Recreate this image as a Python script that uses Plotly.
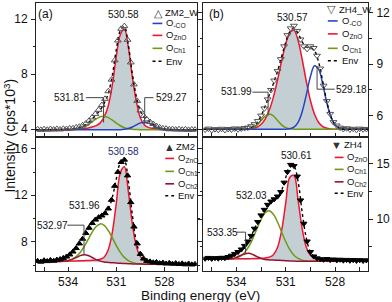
import plotly.graph_objects as go

# ---------------- data ----------------
E_DATA = [535.9, 535.7, 535.5, 535.3, 535.1, 534.9, 534.7, 534.5, 534.3, 534.1,
          533.9, 533.7, 533.5, 533.3, 533.1, 532.9, 532.7, 532.5, 532.3, 532.1,
          531.9, 531.7, 531.5, 531.3, 531.1, 530.9, 530.7, 530.5, 530.3, 530.1,
          529.9, 529.7, 529.5, 529.3, 529.1, 528.9, 528.7, 528.5, 528.3, 528.1,
          527.9, 527.7, 527.5, 527.3, 527.1, 526.9, 526.7, 526.5, 526.3, 526.1]

E_FIT = [536.0, 535.75, 535.5, 535.25, 535.0, 534.75, 534.5, 534.25, 534.0, 533.75,
         533.5, 533.25, 533.0, 532.75, 532.5, 532.25, 532.0, 531.75, 531.5, 531.25,
         531.0, 530.75, 530.5, 530.25, 530.0, 529.75, 529.5, 529.25, 529.0, 528.75,
         528.5, 528.25, 528.0, 527.75, 527.5, 527.25, 527.0, 526.75, 526.5, 526.25, 526.0]

# (a) ZM2_W
DATA_A = [3.98, 3.94, 3.99, 3.95, 4.0, 3.96, 4.01, 3.97, 4.02, 4.0,
          4.05, 4.06, 4.12, 4.17, 4.27, 4.4, 4.6, 4.85, 5.1, 5.4,
          5.75, 6.2, 6.75, 7.6, 9.0, 10.45, 11.3, 11.5, 10.5, 8.85,
          7.25, 6.05, 5.35, 4.95, 4.7, 4.52, 4.37, 4.22, 4.12, 4.05,
          4.03, 3.98, 4.0, 3.96, 3.99, 3.95, 3.98, 3.94, 3.97, 3.95]
BG_A_E = [536.0, 526.0]
BG_A = [3.95, 3.95]
RED_A = [3.95, 3.95, 3.95, 3.96, 3.96, 3.97, 3.97, 3.98, 3.98, 3.99,
         4.0, 4.02, 4.05, 4.08, 4.15, 4.25, 4.45, 4.9, 5.7, 7.2,
         9.3, 10.87, 11.28, 9.95, 7.78, 6.0, 4.8, 4.3, 4.12, 4.05,
         4.02, 4.0, 3.98, 3.97, 3.96, 3.96, 3.95, 3.95, 3.95, 3.95, 3.95]
GREEN_A = [3.95, 3.95, 3.95, 3.95, 3.95, 3.95, 3.95, 3.95, 3.95, 3.95,
           3.99, 4.05, 4.16, 4.33, 4.54, 4.74, 4.89, 4.93, 4.83, 4.65,
           4.43, 4.24, 4.1, 4.02, 3.98, 3.96, 3.95, 3.95, 3.95, 3.95,
           3.95, 3.95, 3.95, 3.95, 3.95, 3.95, 3.95, 3.95, 3.95, 3.95, 3.95]
BLUE_A = [3.95, 3.95, 3.95, 3.95, 3.95, 3.95, 3.95, 3.95, 3.95, 3.95,
          3.95, 3.95, 3.95, 3.95, 3.95, 3.95, 3.95, 3.95, 3.95, 3.95,
          3.95, 3.95, 3.98, 4.04, 4.15, 4.3, 4.45, 4.5, 4.43, 4.28,
          4.13, 4.02, 3.97, 3.95, 3.95, 3.95, 3.95, 3.95, 3.95, 3.95, 3.95]
ENV_A = [3.95, 3.95, 3.95, 3.96, 3.96, 3.97, 3.97, 3.98, 3.98, 3.99,
         4.04, 4.12, 4.26, 4.46, 4.74, 5.04, 5.39, 5.88, 6.58, 7.9,
         9.78, 11.16, 11.46, 10.11, 8.01, 6.36, 5.3, 4.85, 4.6, 4.38,
         4.2, 4.07, 4.0, 3.97, 3.96, 3.96, 3.95, 3.95, 3.95, 3.95, 3.95]

# (b) ZH4_W
DATA_B = [5.18, 5.24, 5.15, 5.21, 5.17, 5.23, 5.16, 5.22, 5.19, 5.25,
          5.2, 5.24, 5.27, 5.3, 5.38, 5.5, 5.68, 6.0, 6.42, 6.95,
          7.5, 8.05, 8.6, 9.3, 10.05, 10.7, 11.1, 11.25, 10.95, 10.45,
          10.05, 9.9, 10.05, 9.95, 9.5, 8.75, 7.75, 6.85, 6.1, 5.62,
          5.42, 5.3, 5.22, 5.26, 5.19, 5.23, 5.17, 5.24, 5.2, 5.22]
BG_B_E = [536.0, 526.0]
BG_B = [5.2, 5.2]
RED_B = [5.2, 5.2, 5.2, 5.2, 5.2, 5.2, 5.2, 5.2, 5.2, 5.2,
         5.2, 5.21, 5.25, 5.32, 5.48, 5.79, 6.31, 7.08, 8.08, 9.18,
         10.19, 10.85, 10.98, 10.39, 9.28, 8.0, 6.88, 6.08, 5.6, 5.36,
         5.26, 5.22, 5.2, 5.2, 5.2, 5.2, 5.2, 5.2, 5.2, 5.2, 5.2]
GREEN_B = [5.2, 5.2, 5.2, 5.2, 5.2, 5.2, 5.2, 5.2, 5.2, 5.2,
           5.2, 5.22, 5.29, 5.44, 5.7, 5.97, 6.1, 5.99, 5.72, 5.46,
           5.3, 5.23, 5.2, 5.2, 5.2, 5.2, 5.2, 5.2, 5.2, 5.2,
           5.2, 5.2, 5.2, 5.2, 5.2, 5.2, 5.2, 5.2, 5.2, 5.2, 5.2]
BLUE_B = [5.2, 5.2, 5.2, 5.2, 5.2, 5.2, 5.2, 5.2, 5.2, 5.2,
          5.2, 5.2, 5.2, 5.2, 5.2, 5.2, 5.2, 5.2, 5.2, 5.2,
          5.2, 5.23, 5.33, 5.61, 6.23, 7.21, 8.28, 8.91, 8.72, 7.83,
          6.74, 5.91, 5.46, 5.27, 5.21, 5.2, 5.2, 5.2, 5.2, 5.2, 5.2]
ENV_B = [5.2, 5.2, 5.2, 5.2, 5.2, 5.2, 5.2, 5.2, 5.2, 5.2,
         5.2, 5.23, 5.34, 5.56, 5.98, 6.56, 7.21, 7.87, 8.6, 9.44,
         10.29, 10.91, 11.11, 10.8, 10.31, 10.01, 9.96, 9.79, 9.12, 7.99,
         6.8, 5.93, 5.46, 5.27, 5.21, 5.2, 5.2, 5.2, 5.2, 5.2, 5.2]

# (c) ZM2
DATA_C = [6.35, 6.28, 6.4, 6.33, 6.42, 6.36, 6.45, 6.5, 6.6, 6.72,
          6.9, 7.15, 7.45, 7.85, 8.25, 8.75, 9.2, 9.6, 9.9, 10.1,
          10.25, 10.45, 10.85, 11.6, 12.8, 14.0, 14.85, 15.05, 13.7, 11.4,
          9.3, 7.85, 6.95, 6.55, 6.35, 6.3, 6.22, 6.25, 6.15, 6.2,
          6.12, 6.18, 6.1, 6.15, 6.08, 6.13, 6.05, 6.12, 6.04, 6.08]
BG_C_E = E_FIT
BG_C = [6.3, 6.3, 6.3, 6.3, 6.3, 6.3, 6.3, 6.3, 6.3, 6.3,
        6.29, 6.29, 6.28, 6.27, 6.26, 6.25, 6.24, 6.23, 6.22, 6.2,
        6.18, 6.15, 6.13, 6.11, 6.1, 6.09, 6.09, 6.08, 6.08, 6.08,
        6.08, 6.08, 6.08, 6.08, 6.08, 6.08, 6.08, 6.08, 6.08, 6.08, 6.08]
RED_C = [6.32, 6.32, 6.33, 6.33, 6.33, 6.34, 6.34, 6.35, 6.35, 6.36,
         6.36, 6.37, 6.38, 6.39, 6.41, 6.45, 6.5, 6.7, 7.32, 8.8,
         11.33, 13.94, 14.46, 12.31, 9.51, 7.6, 6.72, 6.39, 6.28, 6.23,
         6.2, 6.18, 6.16, 6.15, 6.14, 6.13, 6.12, 6.12, 6.11, 6.11, 6.11]
GREEN_C = [6.3, 6.3, 6.3, 6.3, 6.3, 6.3, 6.31, 6.34, 6.39, 6.51,
           6.72, 7.08, 7.59, 8.2, 8.83, 9.32, 9.54, 9.41, 8.97, 8.34,
           7.68, 7.09, 6.66, 6.38, 6.22, 6.14, 6.11, 6.08, 6.08, 6.08,
           6.08, 6.08, 6.08, 6.08, 6.08, 6.08, 6.08, 6.08, 6.08, 6.08, 6.08]
DARK_C = [6.3, 6.3, 6.3, 6.3, 6.3, 6.3, 6.31, 6.33, 6.38, 6.49,
          6.64, 6.81, 6.88, 6.82, 6.65, 6.47, 6.34, 6.26, 6.23, 6.2,
          6.18, 6.15, 6.13, 6.11, 6.1, 6.09, 6.09, 6.08, 6.08, 6.08,
          6.08, 6.08, 6.08, 6.08, 6.08, 6.08, 6.08, 6.08, 6.08, 6.08, 6.08]
ENV_C = [6.32, 6.32, 6.33, 6.33, 6.35, 6.38, 6.45, 6.58, 6.8, 7.1,
         7.42, 7.95, 8.5, 9.1, 9.55, 9.92, 10.15, 10.38, 10.8, 11.8,
         13.4, 14.75, 14.95, 13.2, 10.3, 8.0, 6.9, 6.45, 6.3, 6.23,
         6.2, 6.18, 6.16, 6.15, 6.14, 6.13, 6.12, 6.12, 6.11, 6.11, 6.11]

# (d) ZH4
DATA_D = [6.45, 6.52, 6.44, 6.5, 6.46, 6.53, 6.5, 6.6, 6.72, 6.88,
          7.05, 7.28, 7.6, 8.0, 8.5, 9.15, 9.75, 10.35, 10.85, 11.3,
          11.6, 11.8, 12.05, 12.45, 13.3, 14.25, 14.9, 14.8, 13.85, 11.7,
          9.6, 8.0, 7.05, 6.65, 6.48, 6.4, 6.36, 6.42, 6.33, 6.38,
          6.3, 6.36, 6.28, 6.34, 6.27, 6.33, 6.26, 6.32, 6.25, 6.3]
BG_D_E = E_FIT
BG_D = [6.38, 6.38, 6.38, 6.38, 6.38, 6.38, 6.38, 6.38, 6.38, 6.38,
        6.37, 6.37, 6.36, 6.35, 6.34, 6.33, 6.32, 6.31, 6.3, 6.28,
        6.26, 6.24, 6.22, 6.21, 6.2, 6.2, 6.2, 6.2, 6.2, 6.2,
        6.2, 6.2, 6.2, 6.2, 6.2, 6.2, 6.2, 6.2, 6.2, 6.2, 6.2]
RED_D = [6.4, 6.4, 6.4, 6.4, 6.41, 6.41, 6.42, 6.42, 6.43, 6.44,
         6.43, 6.44, 6.45, 6.46, 6.48, 6.51, 6.58, 6.8, 7.45, 8.97,
         11.44, 13.78, 13.93, 11.71, 9.14, 7.48, 6.74, 6.47, 6.39, 6.34,
         6.31, 6.29, 6.27, 6.26, 6.25, 6.24, 6.24, 6.23, 6.23, 6.23, 6.22]
GREEN_D = [6.38, 6.38, 6.38, 6.38, 6.38, 6.38, 6.4, 6.43, 6.51, 6.68,
           7.0, 7.52, 8.25, 9.13, 9.97, 10.58, 10.76, 10.44, 9.74, 8.84,
           7.96, 7.25, 6.75, 6.46, 6.31, 6.24, 6.21, 6.2, 6.2, 6.2,
           6.2, 6.2, 6.2, 6.2, 6.2, 6.2, 6.2, 6.2, 6.2, 6.2, 6.2]
DARK_D = [6.38, 6.38, 6.38, 6.38, 6.38, 6.38, 6.4, 6.45, 6.56, 6.73,
          6.87, 6.92, 6.81, 6.63, 6.47, 6.37, 6.33, 6.31, 6.3, 6.28,
          6.26, 6.24, 6.22, 6.21, 6.2, 6.2, 6.2, 6.2, 6.2, 6.2,
          6.2, 6.2, 6.2, 6.2, 6.2, 6.2, 6.2, 6.2, 6.2, 6.2, 6.2]
ENV_D = [6.4, 6.4, 6.4, 6.42, 6.44, 6.47, 6.52, 6.62, 6.8, 7.2,
         7.6, 8.1, 8.8, 9.6, 10.3, 10.95, 11.4, 11.75, 12.0, 12.6,
         13.75, 14.8, 14.75, 13.4, 10.6, 8.3, 7.05, 6.6, 6.42, 6.34,
         6.31, 6.29, 6.27, 6.26, 6.25, 6.24, 6.24, 6.23, 6.23, 6.23, 6.22]

X_TICKS = [535.5, 534, 532.5, 531, 529.5, 528, 526.5]
X_TICKTEXT = ["", "534", "", "531", "", "528", ""]

# ---------------- styling / layout helpers ----------------
W, H = 392, 302
ML, MR, MT, MB = 36, 17, 2, 31
PW = W - ML - MR
PH = H - MT - MB


def fx(p):
    return (p - ML) / PW


def fy(p):
    return (H - MB - p) / PH


FONT = "Liberation Sans, Arial, sans-serif"
RED = "#f2142e"
BLUE = "#2444c4"
GREEN = "#6d9a16"
DARK = "#981030"
FILL = "#c4cfd3"
AX = "#222222"

fig = go.Figure()


def add_panel(xa, ya, bg_e, bg, comps, env, data, symbol, msize, mcolor):
    fig.add_trace(go.Scatter(x=bg_e, y=bg, xaxis=xa, yaxis=ya, mode="lines",
                             line=dict(width=0, color="rgba(0,0,0,0)"),
                             showlegend=False, hoverinfo="skip"))
    fig.add_trace(go.Scatter(x=E_FIT, y=comps[0][0], xaxis=xa, yaxis=ya, mode="lines",
                             line=dict(width=0, shape="spline", color="rgba(0,0,0,0)"),
                             fill="tonexty", fillcolor=FILL, showlegend=False,
                             hoverinfo="skip"))
    for vals, col in comps:
        fig.add_trace(go.Scatter(x=E_FIT, y=vals, xaxis=xa, yaxis=ya, mode="lines",
                                 line=dict(width=1.5, color=col, shape="spline"),
                                 showlegend=False))
    fig.add_trace(go.Scatter(x=E_FIT, y=env, xaxis=xa, yaxis=ya, mode="lines",
                             line=dict(width=1.4, color="black", dash="dot", shape="spline"),
                             showlegend=False))
    fig.add_trace(go.Scatter(x=E_DATA, y=data, xaxis=xa, yaxis=ya, mode="markers",
                             marker=dict(symbol=symbol, size=msize, color=mcolor,
                                         line=dict(width=1, color=mcolor)),
                             showlegend=False))


add_panel("x", "y", BG_A_E, BG_A, [(RED_A, RED), (GREEN_A, GREEN), (BLUE_A, BLUE)],
          ENV_A, DATA_A, "triangle-up-open", 6, "#555555")
add_panel("x2", "y2", BG_B_E, BG_B, [(RED_B, RED), (GREEN_B, GREEN), (BLUE_B, BLUE)],
          ENV_B, DATA_B, "triangle-down-open", 6, "#555555")
add_panel("x3", "y3", BG_C_E, BG_C, [(RED_C, RED), (GREEN_C, GREEN), (DARK_C, DARK)],
          ENV_C, DATA_C, "triangle-up", 5.5, "#000000")
add_panel("x4", "y4", BG_D_E, BG_D, [(RED_D, RED), (GREEN_D, GREEN), (DARK_D, DARK)],
          ENV_D, DATA_D, "triangle-down", 5.5, "#000000")

xl = [0, fx(200)]
xr = [fx(207), 1]
yt = [fy(136.5), 1]
yb = [0, fy(136.5)]


def xaxis(domain, anchor, labels):
    return dict(domain=domain, anchor=anchor, range=[536, 526], tickvals=X_TICKS,
                ticktext=X_TICKTEXT, showticklabels=labels, ticks="inside", ticklen=4,
                tickwidth=1, tickcolor=AX, showline=True, linecolor=AX, linewidth=1,
                mirror=True, showgrid=False, zeroline=False,
                tickfont=dict(size=12, color="#111", family=FONT),
                ticklabelstandoff=0)


def yaxis(domain, anchor, rng, tv, side, mdt):
    return dict(domain=domain, anchor=anchor, range=rng, tickvals=tv, side=side,
                ticks="outside", ticklen=4, tickwidth=1, tickcolor=AX, showline=True,
                linecolor=AX, linewidth=1, mirror="ticks", showgrid=False,
                zeroline=False, tickfont=dict(size=12, color="#111", family=FONT),
                minor=dict(tick0=0, dtick=mdt, ticks="outside", ticklen=2.5,
                           tickcolor=AX, tickwidth=1),
                ticklabelstandoff=1)


fig.update_layout(
    width=W, height=H, margin=dict(l=ML, r=MR, t=MT, b=MB),
    paper_bgcolor="white", plot_bgcolor="white",
    font=dict(family=FONT, color="#111", size=12),
    xaxis=xaxis(xl, "y", False), yaxis=yaxis(yt, "x", [3.42, 13.18], [4, 8, 12], "left", 2),
    xaxis2=xaxis(xr, "y2", False), yaxis2=yaxis(yt, "x2", [4.75, 12.58], [6, 9, 12], "right", 1.5),
    xaxis3=xaxis(xl, "y3", True), yaxis3=yaxis(yb, "x3", [5.49, 17.01], [8, 12, 16], "left", 2),
    xaxis4=xaxis(xr, "y4", True), yaxis4=yaxis(yb, "x4", [5.33, 17.4], [10, 15], "right", 2.5),
    showlegend=False,
)

ann = []
shapes = []


def text(px, py, s, size=10, anchor="center", color="#111", angle=0):
    ann.append(dict(x=fx(px), y=fy(py), xref="paper", yref="paper", text=s,
                    showarrow=False, xanchor=anchor, yanchor="middle", textangle=angle,
                    font=dict(size=size, color=color, family=FONT)))


def seg(x0, y0, x1, y1, color="#444", width=1, dash="solid"):
    shapes.append(dict(type="line", xref="paper", yref="paper", x0=fx(x0), y0=fy(y0),
                       x1=fx(x1), y1=fy(y1), line=dict(color=color, width=width, dash=dash)))


# axis titles
text(9, 135.5, "Intensity (cps*10<sup>3</sup>)", size=14, angle=-90)
text(204, 295.5, "Binding energy (eV)", size=13.5)
# panel labels
text(45.5, 13, "(a)", size=12)
text(220, 13, "(b)", size=12)

# peak labels + leader lines
text(125, 13.5, "530.58")
text(70, 97, "531.81")
text(174, 97, "529.27")
seg(87, 97, 105, 97); seg(105, 97, 105, 122)
seg(147, 97, 156, 97); seg(147, 97, 147, 124)

text(298, 17, "530.57")
text(241, 91, "531.99")
text(358, 88.5, "529.18")
seg(257, 91.5, 273, 91.5); seg(273, 91.5, 273, 115)
seg(323, 66, 323, 88.5); seg(323, 88.5, 341, 88.5)

text(125, 151, "530.58", color="#1d2d6e")
text(86, 205, "531.96")
text(53, 225, "532.97")
seg(68, 225, 85, 225); seg(85, 225, 85, 255)

text(302, 155, "530.61")
text(256, 195, "532.03")
text(226, 232, "533.35")
seg(241, 232, 250, 232); seg(250, 232, 250, 253)

# legends
LEG_A = ["O<sub>-CO</sub>", "O<sub>ZnO</sub>", "O<sub>Ch1</sub>", "Env"]
LEG_C = ["O<sub>ZnO</sub>", "O<sub>Ch1</sub>", "O<sub>Ch2</sub>", "Env"]


def legend(sym, name, sx, sy, x0, x1, ys, labels, cols):
    text(sx, sy, sym, size=11, color="#333")
    text(sx + 5, sy, name, size=9.5, anchor="left")
    for yy, lab, col in zip(ys, labels, cols):
        if col is None:
            seg(x0, yy, x1, yy, color="black", width=1.5, dash="dot")
        else:
            seg(x0, yy, x1, yy, color=col, width=1.6)
        text(x1 + 2, yy, lab, size=9.5, anchor="left")


legend("△", "ZM2_W", 161, 12, 155, 165, [22.5, 34.5, 47.5, 60.5], LEG_A,
       [BLUE, RED, GREEN, None])
legend("▽", "ZH4_W", 338, 8.5, 334, 344, [20, 33, 47.5, 60], LEG_A,
       [BLUE, RED, GREEN, None])
legend("▲", "ZM2", 172, 146.5, 168, 177, [158, 171, 183.5, 195.5], LEG_C,
       [RED, GREEN, DARK, None])
legend("▼", "ZH4", 343, 144.5, 341, 350, [157, 169, 181.5, 193], LEG_C,
       [RED, GREEN, DARK, None])

fig.update_layout(annotations=ann, shapes=shapes)
fig.write_html("out.html", config={"displayModeBar": False},
               post_script="document.body.style.margin='0';document.body.style.overflow='hidden';")
